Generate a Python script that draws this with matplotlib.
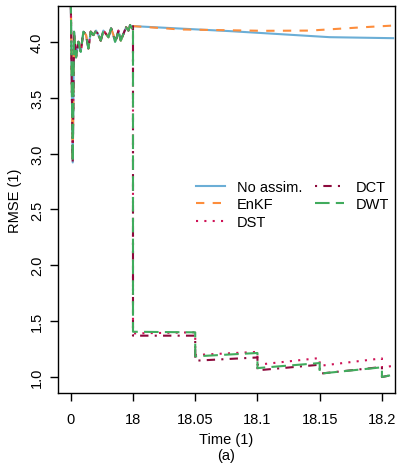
import numpy as np
import matplotlib
matplotlib.use("Agg")
import matplotlib.pyplot as plt

plt.rcParams['font.family'] = ['Liberation Sans', 'DejaVu Sans']

# spin-up phase, shared by all runs (0 .. 18)
spinT = [0, 0.57, 0.95, 1.53, 2.21, 2.88, 3.66, 4.43, 5.1, 5.78, 6.55, 7.32, 8.0,
         8.67, 9.44, 10.2, 10.9, 11.66, 12.34, 12.82, 13.3, 13.78, 14.46, 15.23,
         16.0, 16.68, 17.16, 17.74, 18]
spinV = [4.40, 2.92, 4.09, 3.86, 4.00, 3.91, 4.09, 4.06, 3.94, 4.09, 4.06, 4.10, 4.06,
         4.01, 4.10, 4.07, 4.04, 4.12, 4.06, 4.00, 4.04, 4.10, 4.01, 4.07,
         4.13, 4.10, 4.15, 4.12, 4.14]

# free run and EnKF after 18
noassimT = [18, 18.078, 18.105, 18.158, 18.209]
noassimV = [4.145, 4.095, 4.077, 4.041, 4.032]
enkfT = [18, 18.038, 18.105, 18.142, 18.185, 18.209]
enkfV = [4.12, 4.11, 4.098, 4.10, 4.13, 4.145]

# assimilation windows (forecast end, analysis start) every 0.05
stepT = [18, 18, 18.05, 18.05, 18.1, 18.1, 18.15, 18.15, 18.2, 18.2, 18.209]
dstV = [4.14, 1.39, 1.40, 1.197, 1.225, 1.11, 1.17, 1.10, 1.167, 1.085, 1.10]
dctV = [4.14, 1.37, 1.37, 1.146, 1.175, 1.06, 1.11, 1.03, 1.09, 1.00, 1.02]
dwtV = [4.14, 1.405, 1.40, 1.185, 1.215, 1.08, 1.125, 1.03, 1.087, 1.00, 1.02]

tickPos = [0, 18, 18.05, 18.1, 18.15, 18.2]
tickLab = ["0", "18", "18.05", "18.1", "18.15", "18.2"]


def fwd(t):
    t = np.asarray(t, dtype=float)
    return np.where(t <= 18, t / 18.0, 1.0 + (t - 18.0) * 20.0)


def inv(u):
    u = np.asarray(u, dtype=float)
    return np.where(u <= 1, u * 18.0, 18.0 + (u - 1.0) / 20.0)


fig = plt.figure(figsize=(3.98, 4.64), dpi=100)
ax = fig.add_axes([58 / 398, 70 / 464, 337 / 398, 387 / 464])
ax.set_xscale('function', functions=(fwd, inv))

lw = 1.5
ax.plot(spinT + noassimT[1:], spinV + noassimV[1:], color='#6baed6', lw=lw, label='No assim.')
ax.plot(spinT + enkfT[1:], spinV + enkfV[1:], color='#fd8d3c', lw=lw,
        ls=(0, (4, 4)), label='EnKF')
ax.plot(spinT + stepT[1:], spinV + dstV[1:], color='#ce1256', lw=lw,
        ls=(0, (1, 3)), label='DST')
ax.plot(spinT + stepT[1:], spinV + dctV[1:], color='#8c0a3c', lw=lw,
        ls=(0, (1, 3, 4, 3)), label='DCT')
ax.plot(spinT + stepT[1:], spinV + dwtV[1:], color='#41ab5d', lw=lw,
        ls=(0, (7, 3)), label='DWT')

ax.set_xlim(float(inv(-0.205)), float(inv(5.21)))
ax.set_ylim(0.857, 4.32)
ax.set_xticks(tickPos)
ax.set_xticklabels(tickLab)
ax.set_yticks([1.0, 1.5, 2.0, 2.5, 3.0, 3.5, 4.0])
ax.set_yticklabels(["1.0", "1.5", "2.0", "2.5", "3.0", "3.5", "4.0"],
                   rotation=90, va='center')
ax.tick_params(axis='both', direction='out', length=6, width=1.0,
               labelsize=10.5, color='black')
ax.tick_params(axis='x', pad=8)
ax.tick_params(axis='y', pad=4)
for s in ax.spines.values():
    s.set_linewidth(1.0)

ax.set_ylabel("RMSE (1)", fontsize=10.5, labelpad=6)
fig.text((58 + 337 * 0.5) / 398, 1 - 440 / 464, "Time (1)", ha='center', va='center', fontsize=10.5)
fig.text((58 + 337 * 0.5) / 398, 1 - 456 / 464, "(a)", ha='center', va='center', fontsize=10.5)

ax.legend(ncol=2, frameon=False, fontsize=10.5, loc='upper left',
          bbox_to_anchor=(0.37, 0.585), handlelength=2.0, columnspacing=0.9,
          labelspacing=0.25, handletextpad=0.8)

fig.savefig("out.png", dpi=100)
